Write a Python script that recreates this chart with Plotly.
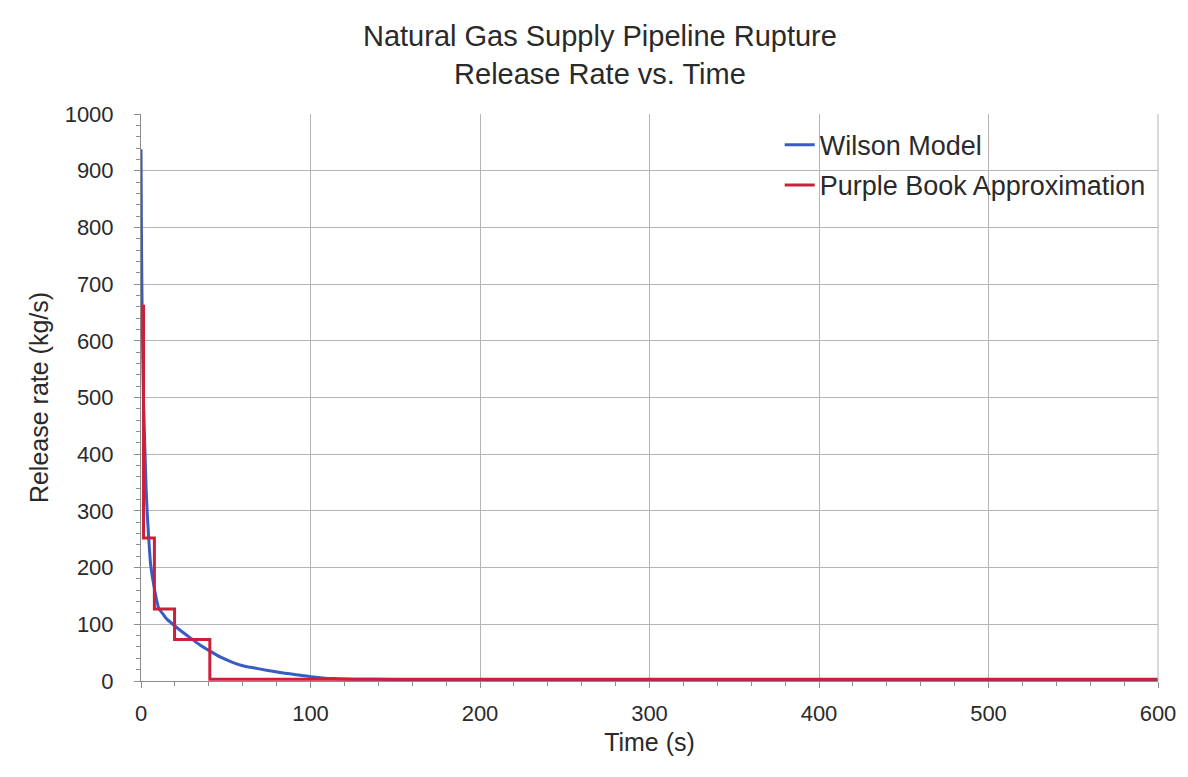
import plotly.graph_objects as go

# Wilson model (blue)
wilson_t = [0, 0.25, 0.5, 1.0, 1.5, 2.4, 3.0, 3.7, 4.5, 5.7, 7.9, 10.5, 13, 15, 20,
            25, 30, 35, 40.6, 47, 54, 60, 67, 74, 84, 94, 100, 107, 114, 125,
            150, 200, 300, 400, 500, 600]
wilson_rate = [938, 800, 700, 580, 490, 400, 340, 295, 255, 205, 163, 128, 118, 110, 97,
               85, 74, 63, 53, 42, 33, 27, 23, 19, 14, 10, 7.5, 5.5, 4.2, 3.3,
               2.8, 2.4, 2.0, 1.8, 1.5, 1.2]

# Purple Book approximation (red) - step function
pb_t = [0, 1.5, 1.5, 7.9, 7.9, 19.8, 19.8, 40.6, 40.6, 600]
pb_rate = [661, 661, 252, 252, 127, 127, 73, 73, 3, 3]

x_ticks = [0, 100, 200, 300, 400, 500, 600]
y_ticks = [0, 100, 200, 300, 400, 500, 600, 700, 800, 900, 1000]

font_family = "Liberation Sans, Arial, sans-serif"
txt = "#2a2a2a"

fig = go.Figure()
fig.add_trace(go.Scatter(x=wilson_t, y=wilson_rate, mode="lines", name="Wilson Model",
                         line=dict(color="#3a5cc2", width=3, shape="spline", smoothing=0.6),
                         legendgroup="a"))
fig.add_trace(go.Scatter(x=pb_t, y=pb_rate, mode="lines", name="Purple Book Approximation",
                         line=dict(color="#cc1f3a", width=3), legendgroup="b"))

fig.update_layout(
    width=1188, height=777,
    margin=dict(l=141, r=28, t=114, b=96),
    paper_bgcolor="white", plot_bgcolor="white",
    font=dict(family=font_family, color=txt, size=22),
    title=dict(text="Natural Gas Supply Pipeline Rupture<br>Release Rate vs. Time",
               x=0.505, xanchor="center", yref="container", y=0.941, yanchor="middle",
               font=dict(size=29, color=txt, family=font_family)),
    showlegend=True,
    legend=dict(x=0.628, xanchor="left", y=0.988, yanchor="top",
                bgcolor="rgba(0,0,0,0)", font=dict(size=27, color=txt),
                tracegroupgap=2, itemwidth=30),
    xaxis=dict(range=[0, 600], tickvals=x_ticks, ticktext=[str(v) for v in x_ticks],
               showgrid=True, gridcolor="#b4b4b4", gridwidth=1,
               showline=True, linecolor="#8c8c8c", linewidth=1, mirror=False,
               ticks="outside", ticklen=6, tickcolor="#8c8c8c", ticklabelstandoff=7,
               minor=dict(dtick=20, ticks="outside", ticklen=4, tickcolor="#8c8c8c", showgrid=False),
               title=dict(text="Time (s)", font=dict(size=25), standoff=8),
               tickfont=dict(size=22), zeroline=False),
    yaxis=dict(range=[0, 1000], tickvals=y_ticks, ticktext=[str(v) for v in y_ticks],
               showgrid=True, gridcolor="#b4b4b4", gridwidth=1,
               showline=True, linecolor="#8c8c8c", linewidth=1,
               ticks="outside", ticklen=6, tickcolor="#8c8c8c", ticklabelstandoff=16,
               minor=dict(dtick=20, ticks="outside", ticklen=4, tickcolor="#8c8c8c", showgrid=False),
               title=dict(text="Release rate (kg/s)", font=dict(size=25), standoff=8),
               tickfont=dict(size=22), zeroline=False),
)
# right border of the plot area
fig.update_layout(shapes=[dict(type="line", xref="paper", yref="paper", x0=1, x1=1, y0=0, y1=1,
                               line=dict(color="#b4b4b4", width=1))])

fig.write_html("out.html")
